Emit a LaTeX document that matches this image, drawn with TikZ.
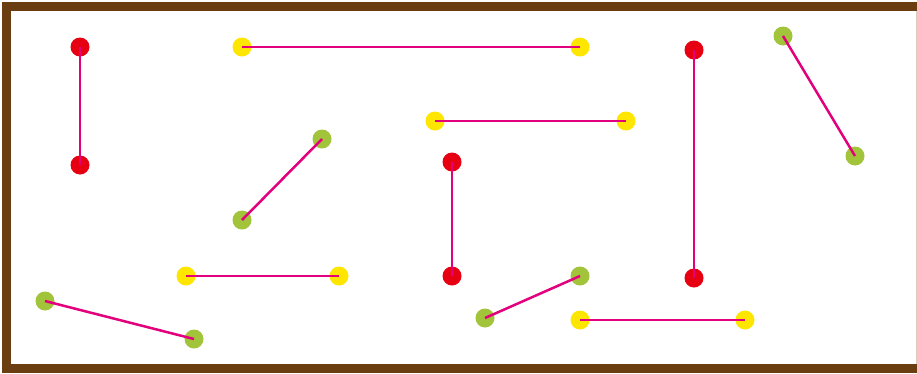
\documentclass[tikz,border=0pt]{standalone}
\definecolor{framebrown}{RGB}{107,62,18}
\definecolor{edgetan}{RGB}{222,205,190}
\definecolor{dotred}{RGB}{230,0,18}
\definecolor{dotyellow}{RGB}{255,230,0}
\definecolor{dotgreen}{RGB}{162,196,58}
\definecolor{linkpink}{RGB}{226,0,125}
\begin{document}
\begin{tikzpicture}[x=1pt,y=-1pt,
  dot/.style={circle,inner sep=0pt,minimum size=19pt,draw=none},
  rdot/.style={dot,fill=dotred},
  ydot/.style={dot,fill=dotyellow},
  gdot/.style={dot,fill=dotgreen},
  link/.style={draw=linkpink,line width=2.5pt}]
\useasboundingbox (0,0) rectangle (917,373);
\fill[white] (0,0) rectangle (917,373);
\begin{scope}
\clip (0,0) rectangle (917,373);
\draw[framebrown,line width=9pt] (6.5,6.3) rectangle (922,368.6);
\draw[edgetan,line width=1pt] (916.3,11) -- (916.3,364);
\end{scope}
% dots
\node[rdot] (r1a) at (80,47) {};
\node[rdot] (r1b) at (80,165) {};
\node[ydot] (y1a) at (242,47) {};
\node[ydot] (y1b) at (580,47) {};
\node[rdot] (r2a) at (694,50) {};
\node[rdot] (r2b) at (694,278) {};
\node[gdot] (g1a) at (783,36) {};
\node[gdot] (g1b) at (855,156) {};
\node[gdot] (g2a) at (322,139) {};
\node[gdot] (g2b) at (242,220) {};
\node[ydot] (y2a) at (435,121) {};
\node[ydot] (y2b) at (626,121) {};
\node[rdot] (r3a) at (452,162) {};
\node[rdot] (r3b) at (452,276) {};
\node[ydot] (y3a) at (186,276) {};
\node[ydot] (y3b) at (339,276) {};
\node[gdot] (g3a) at (45,301) {};
\node[gdot] (g3b) at (194,339) {};
\node[gdot] (g4a) at (485,318) {};
\node[gdot] (g4b) at (580,276) {};
\node[ydot] (y4a) at (580,320) {};
\node[ydot] (y4b) at (745,320) {};
% links
\draw[link] (r1a.center) -- (r1b.center);
\draw[link] (y1a.center) -- (y1b.center);
\draw[link] (r2a.center) -- (r2b.center);
\draw[link] (g1a.center) -- (g1b.center);
\draw[link] (g2a.center) -- (g2b.center);
\draw[link] (y2a.center) -- (y2b.center);
\draw[link] (r3a.center) -- (r3b.center);
\draw[link] (y3a.center) -- (y3b.center);
\draw[link] (g3a.center) -- (g3b.center);
\draw[link] (g4a.center) -- (g4b.center);
\draw[link] (y4a.center) -- (y4b.center);
\end{tikzpicture}
\end{document}
